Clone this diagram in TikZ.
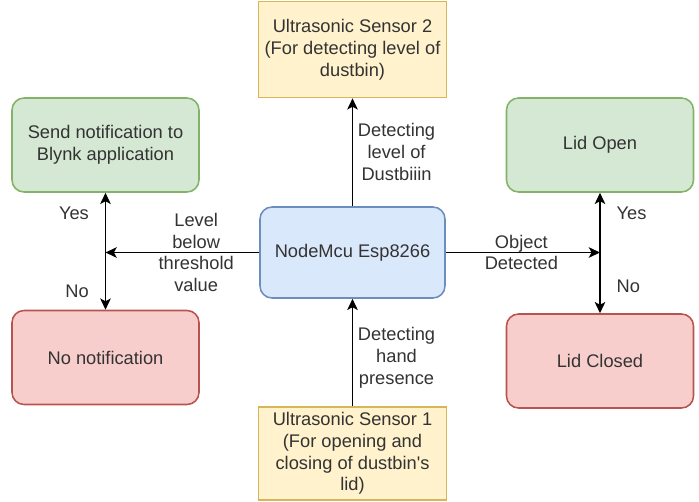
\documentclass[tikz,border=0pt]{standalone}
\usepackage{fontspec}
\setmainfont{Liberation Sans}
\usepackage{tikz}
\usetikzlibrary{positioning,arrows.meta}
\definecolor{txtgray}{HTML}{333333}
\definecolor{bluefill}{HTML}{DAE8FC}
\definecolor{blueline}{HTML}{6C8EBF}
\definecolor{greenfill}{HTML}{D5E8D4}
\definecolor{greenline}{HTML}{82B366}
\definecolor{redfill}{HTML}{F8CECC}
\definecolor{redline}{HTML}{B85450}
\definecolor{yellowfill}{HTML}{FFF2CC}
\definecolor{yellowline}{HTML}{D6B656}

\begin{document}
\begin{tikzpicture}[line width=1.1pt,-{Stealth[length=8pt,width=7.5pt,inset=2pt]}]
\tikzstyle{every node}=[font=\fontsize{13}{15.5}\selectfont,text=txtgray,align=center]
\tikzstyle{box}=[rectangle,rounded corners=0.3cm,line width=1.1pt,inner sep=0pt,minimum width=4.675cm,minimum height=2.35cm]
\tikzstyle{yesbox}=[box,draw=greenline,fill=greenfill]
\tikzstyle{nobox}=[box,draw=redline,fill=redfill]
\tikzstyle{sensor}=[rectangle,line width=1.1pt,inner sep=0pt,draw=yellowline,fill=yellowfill,minimum width=4.7cm]
\useasboundingbox (-8.8125,-6.2125) rectangle (8.6625,6.3125);
% controller in the middle
\node[box,draw=blueline,fill=bluefill,minimum width=4.625cm,minimum height=2.275cm] (mcu) {NodeMcu Esp8266};
% the two sensors
\node[sensor,minimum height=2.4cm,above of=mcu,node distance=5.075cm] (sensor2) {Ultrasonic Sensor 2\\(For detecting level of\\dustbin)};
\node[sensor,minimum height=2.325cm,below of=mcu,node distance=5.025cm] (sensor1) {Ultrasonic Sensor 1\\(For opening and\\closing of dustbin\textquotesingle s\\lid)};
% notification side
\node[yesbox,left of=mcu,node distance=6.175cm,yshift=2.6875cm] (notify) {Send notification to\\Blynk application};
\node[nobox,left of=mcu,node distance=6.175cm,yshift=-2.625cm] (nonotify) {No notification};
% lid side
\node[yesbox,right of=mcu,node distance=6.1875cm,yshift=2.6875cm] (lidopen) {Lid Open};
\node[nobox,right of=mcu,node distance=6.1875cm,yshift=-2.7125cm] (lidclosed) {Lid Closed};
\coordinate (jleft) at (mcu -| notify);
\coordinate (jright) at (mcu -| lidopen);
\draw (sensor1) -- node[right,pos=0.45] {Detecting\\hand\\presence} (mcu);
\draw (mcu) -- node[right,pos=0.5] {Detecting\\level of\\Dustbiiin} (sensor2);
\draw (mcu) -- node[pos=0.41] {Level\\below\\threshold\\value} (jleft);
\draw (jleft) -- node[left=0.28cm,pos=0.66] {Yes} (notify);
\draw (jleft) -- node[left=0.28cm,pos=0.67] {No} (nonotify);
\draw (mcu) -- node[pos=0.49] {Object\\Detected} (jright);
\draw (jright) -- node[right=0.28cm,pos=0.66] {Yes} (lidopen);
\draw (jright) -- node[right=0.28cm,pos=0.55] {No} (lidclosed);
\end{tikzpicture}
\end{document}
